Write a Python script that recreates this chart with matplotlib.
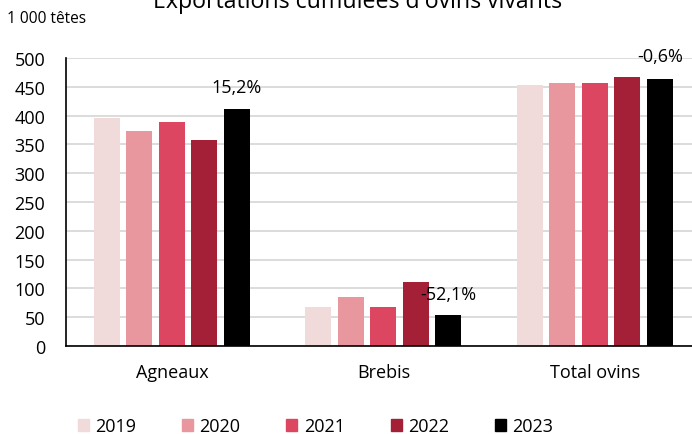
import numpy as np
import matplotlib
matplotlib.use("Agg")
import matplotlib.pyplot as plt
from matplotlib.patches import Patch

plt.rcParams['font.family'] = ['Open Sans', 'DejaVu Sans']

categories = ["Agneaux", "Brebis", "Total ovins"]
years = ["2019", "2020", "2021", "2022", "2023"]
values = {
    "2019": [396, 68, 453],
    "2020": [373, 85, 457],
    "2021": [389, 68, 457],
    "2022": [358, 111, 467],
    "2023": [411, 54, 464],
}
pct_labels = ["15,2%", "-52,1%", "-0,6%"]
colors = ["#F1DADA", "#E8979F", "#DC4660", "#A32037", "#000000"]

fig = plt.figure(figsize=(6.92, 4.35), dpi=100)
ax = fig.add_axes([0.0954, 0.2023, 0.9046, 0.662])

x = np.arange(len(categories))
step = 0.1537
width = 0.123
for i, y in enumerate(years):
    ax.bar(x + (i - 2) * step, values[y], width, color=colors[i], zorder=3)

# variation labels next to the 2023 bars
for j, lab in enumerate(pct_labels):
    top = values["2023"][j]
    dy = 36 if j == 1 else 39
    ax.text(x[j] + 2 * step, top + dy, lab, ha='center', va='center', fontsize=13)

ax.set_ylim(0, 500)
ax.set_xlim(-0.501, 2.459)
ax.set_yticks(range(0, 501, 50))
ax.set_xticks(x)
ax.set_xticklabels(categories)
ax.grid(axis='y', color='#D9D9D9', linewidth=1.3, zorder=0)
ax.tick_params(axis='both', length=0, labelsize=13)
ax.tick_params(axis='x', pad=12)
ax.tick_params(axis='y', pad=15)
for s in ['right', 'top']:
    ax.spines[s].set_visible(False)
for s in ['left', 'bottom']:
    ax.spines[s].set_color('black')
    ax.spines[s].set_linewidth(1.2)
    ax.spines[s].set_zorder(4)

fig.text(0.01, 0.956, "1 000 têtes", fontsize=11.2, va='center', ha='left')
fig.text(0.516, 0.9816, "Exportations cumulées d'ovins vivants", fontsize=16.7, va='baseline', ha='center')

handles = [Patch(color=c, label=y) for c, y in zip(colors, years)]
fig.legend(handles=handles, loc='center', bbox_to_anchor=(0.456, 0.018), ncol=5, frameon=False,
           fontsize=13, handlelength=0.6, handleheight=0.6, handletextpad=0.35, columnspacing=2.55)

fig.savefig("out.png", dpi=100)
